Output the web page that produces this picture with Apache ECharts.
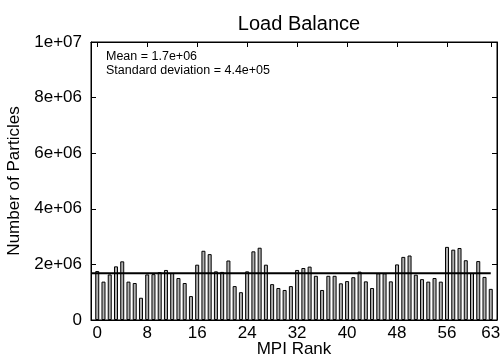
<!DOCTYPE html>
<html>
<head>
<meta charset="utf-8">
<script src="https://cdn.jsdelivr.net/npm/echarts@6/dist/echarts.min.js"></script>
<style>html,body{margin:0;padding:0;background:#fff}#c{width:502px;height:358px}</style>
</head>
<body>
<div id="c"></div>
<script>
var ranks = [];
for (var i = 0; i < 64; i++) ranks.push(i);
var particlesMillions = [
  1.76, 1.38, 1.64, 1.93, 2.11, 1.38, 1.33, 0.80, 1.64, 1.65,
  1.72, 1.80, 1.69, 1.51, 1.33, 0.86, 1.99, 2.49, 2.37, 1.75,
  1.73, 2.14, 1.22, 1.00, 1.75, 2.47, 2.60, 1.99, 1.29, 1.15,
  1.08, 1.22, 1.80, 1.87, 1.92, 1.59, 1.08, 1.59, 1.59, 1.32,
  1.40, 1.54, 1.74, 1.39, 1.15, 1.68, 1.68, 1.39, 2.00, 2.27,
  2.32, 1.63, 1.47, 1.38, 1.51, 1.38, 2.63, 2.53, 2.59, 2.15,
  1.69, 2.12, 1.55, 1.12
];
var xTickValues = [0, 8, 16, 24, 32, 40, 48, 56, 63];
var yTickValues = [0, 2e6, 4e6, 6e6, 8e6, 1e7];
var titleText = 'Load Balance';
var xName = 'MPI Rank';
var yName = 'Number of Particles';
var statsLines = ['Mean = 1.7e+06', 'Standard deviation = 4.4e+05'];

var values = particlesMillions.map(function (v) { return v * 1e6; });
var barData = ranks.map(function (r, i) { return [r, values[i]]; });
var mean = values.reduce(function (a, b) { return a + b; }, 0) / values.length;
var meanData = [[-1, mean], [ranks[ranks.length - 1], mean]];

function sci(v) {
  if (v === 0) return '0';
  var s = v.toExponential(0).split('e');
  var e = parseInt(s[1], 10);
  var sign = e < 0 ? '-' : '+';
  var a = Math.abs(e);
  return s[0] + 'e' + sign + (a < 10 ? '0' + a : '' + a);
}

var font = 'Liberation Sans, Arial, Helvetica, sans-serif';
var chart = echarts.init(document.getElementById('c'), null, {renderer: 'canvas'});
var axisLineStyle = {color: '#000', width: 1};
chart.setOption({
  animation: false,
  backgroundColor: '#fff',
  title: {
    text: titleText, left: 294, textAlign: 'center', top: 9,
    textStyle: {fontFamily: font, fontSize: 20, fontWeight: 'normal', color: '#000'}
  },
  grid: {left: 91, right: 5, top: 42, bottom: 38, show: true, borderColor: '#000', borderWidth: 1,
         backgroundColor: 'transparent', containLabel: false, outerBoundsMode: 'none'},
  graphic: [{
    type: 'text', left: 106, top: 49,
    style: {text: statsLines.join('\n'), font: '12.5px ' + font, fill: '#000', lineHeight: 14.5}
  }],
  xAxis: [{
    type: 'value', min: -1, max: 64, position: 'bottom',
    name: xName, nameLocation: 'middle', nameGap: 21, nameMoveOverlap: false,
    nameTextStyle: {fontFamily: font, fontSize: 17, color: '#000'},
    axisLine: {show: true, onZero: false, lineStyle: axisLineStyle},
    axisTick: {show: true, inside: true, length: 5, customValues: xTickValues, lineStyle: axisLineStyle},
    axisLabel: {customValues: xTickValues, fontFamily: font, fontSize: 17, color: '#000', margin: 5},
    splitLine: {show: false}
  }, {
    type: 'value', min: -1, max: 64, position: 'top',
    axisLine: {show: true, onZero: false, lineStyle: axisLineStyle},
    axisTick: {show: true, inside: true, length: 5, customValues: xTickValues, lineStyle: axisLineStyle},
    axisLabel: {show: false},
    splitLine: {show: false}
  }],
  yAxis: [{
    type: 'value', min: 0, max: 1e7, interval: 2e6, position: 'left',
    name: yName, nameLocation: 'middle', nameGap: 68, nameRotate: 90, nameMoveOverlap: false,
    nameTextStyle: {fontFamily: font, fontSize: 17, color: '#000'},
    axisLine: {show: true, onZero: false, lineStyle: axisLineStyle},
    axisTick: {show: true, inside: true, length: 5, lineStyle: axisLineStyle},
    axisLabel: {formatter: sci, fontFamily: font, fontSize: 17, color: '#000', margin: 9},
    splitLine: {show: false}
  }, {
    type: 'value', min: 0, max: 1e7, interval: 2e6, position: 'right',
    axisLine: {show: true, onZero: false, lineStyle: axisLineStyle},
    axisTick: {show: true, inside: true, length: 5, lineStyle: axisLineStyle},
    axisLabel: {show: false},
    splitLine: {show: false}
  }],
  series: [{
    type: 'bar', data: barData, barWidth: 4,
    itemStyle: {color: '#b0b0b0', borderColor: '#000', borderWidth: 1},
    silent: true
  }, {
    type: 'line', data: meanData, showSymbol: false, symbol: 'none',
    lineStyle: {color: '#000', width: 2}, z: 5, silent: true
  }]
});
</script>
</body>
</html>
